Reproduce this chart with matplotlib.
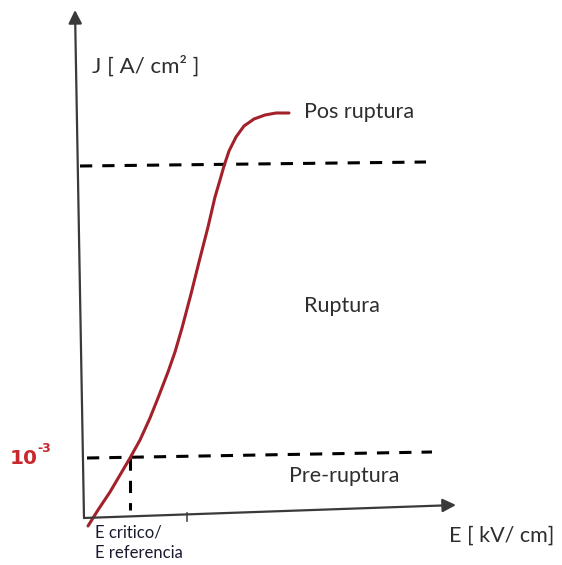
import matplotlib.pyplot as plt

plt.rcParams['font.family'] = ['Lato', 'DejaVu Sans']

# curve (E, J), image-like coordinates (J grows downward)
curve_E = [88, 98, 110, 120, 130, 140, 150, 158, 168, 175, 182, 191, 199, 208,
           215, 220, 224, 229, 236, 244, 254, 265, 276, 289]
curve_J = [526, 510, 492, 475, 458, 440, 418, 398, 372, 352, 328, 294, 262, 227,
           197, 180, 166, 151, 137, 126, 119, 115, 113, 113]

# region boundaries (dashed lines): start E, start J, end E, end J
upper_bound = [80, 166, 426, 162]
lower_bound = [87, 458, 432, 452]
e_critico = [130, 458, 130, 510]

# axes: origin and arrow tips
origin = [84, 518]
y_tip = [75, 10]
x_tip = [456, 505]

region_labels = ['Pos ruptura', 'Ruptura', 'Pre-ruptura']
region_pos = [(304, 112), (304, 306), (289, 476)]

text_color = '#2e2e2e'
red = '#a3212b'

fig = plt.figure(figsize=(5.62, 5.65), dpi=100)
ax = fig.add_axes([0, 0, 1, 1])
ax.set_xlim(0, 562)
ax.set_ylim(565, 0)
ax.axis('off')

# axis arrows
arrow = dict(arrowstyle='-|>', color='#3a3a3a', lw=1.6, mutation_scale=20, shrinkA=0, shrinkB=0)
ax.annotate('', xy=y_tip, xytext=origin, arrowprops=arrow)
ax.annotate('', xy=x_tip, xytext=origin, arrowprops=arrow)

# dashed boundaries
for seg in (upper_bound, lower_bound, e_critico):
    ax.plot([seg[0], seg[2]], [seg[1], seg[3]], color='black', lw=2.2,
            dashes=(4, 3.3), solid_capstyle='butt')

# small tick on E axis
ax.plot([187, 187], [513, 521], color='#4a4a4a', lw=1.2)

# the J-E curve
ax.plot(curve_E, curve_J, color=red, lw=2.2, solid_capstyle='round', solid_joinstyle='round')

# texts
ax.text(92, 66, 'J [ A/ cm² ]', fontsize=16, color=text_color, va='center', ha='left')
for lab, (x, y) in zip(region_labels, region_pos):
    ax.text(x, y, lab, fontsize=15.5, color=text_color, va='center', ha='left')
ax.text(449, 536, 'E [ kV/ cm]', fontsize=15.5, color=text_color, va='center', ha='left')
# 10^-3 written as base plus a separate superscript
ax.text(10, 458, '10', fontsize=14.5, color='#c8282e', fontweight='bold',
        family='DejaVu Sans', va='center', ha='left')
ax.text(37, 448, '-3', fontsize=9, color='#c8282e', fontweight='bold',
        family='DejaVu Sans', va='center', ha='left')
ax.text(95, 533, 'E critico/', fontsize=12, color='#1a1a2e', va='center', ha='left')
ax.text(95, 553, 'E referencia', fontsize=12, color='#1a1a2e', va='center', ha='left')

fig.savefig('out.png', dpi=100)
